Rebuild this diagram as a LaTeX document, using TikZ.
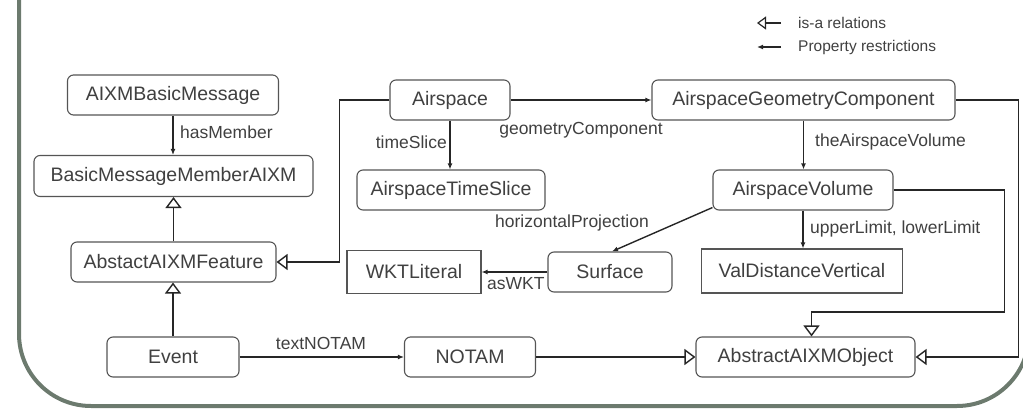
\documentclass[tikz,border=0pt]{standalone}
\usepackage{fontspec}
\setmainfont{Liberation Sans}
\usetikzlibrary{arrows.meta}

\definecolor{txt}{HTML}{404040}
\definecolor{boxgray}{HTML}{555555}
\definecolor{linec}{HTML}{262626}
\definecolor{framec}{RGB}{108,122,110}

\tikzset{
  cls/.style={draw=boxgray, line width=1.1pt, rounded corners=6pt, fill=white,
    text=txt, font=\fontsize{19.5}{22}\selectfont, inner sep=0pt,
    minimum height=40pt},
  lit/.style={cls, rounded corners=0pt, minimum height=43pt},
  prop/.style={draw=linec, line width=1.4pt, -{Latex[length=6pt,width=5pt]}},
  isa/.style={draw=linec, line width=1.4pt,
    -{Triangle[open, length=11pt, width=16pt, fill=white]}},
  lab/.style={text=txt, font=\fontsize{17.5}{20}\selectfont, inner sep=0pt},
  leg/.style={text=txt, font=\fontsize{15.5}{18}\selectfont, inner sep=0pt, anchor=west},
}

\begin{document}
\begin{tikzpicture}[x=1pt,y=-1pt]
\useasboundingbox (0,0) rectangle (1023,409);
\clip (0,0) rectangle (1023,409);

% outer frame
\draw[framec, line width=4pt, rounded corners=72pt]
  (19,-80) -- (19,406) -- (1029,406) -- (1029,-80);

% legend
\coordinate (l1s) at (781,23);  \coordinate (l1e) at (757,23);
\coordinate (l2s) at (781,47);  \coordinate (l2e) at (757,47);
\draw[draw=linec, line width=1.2pt, -{Triangle[open, length=9pt, width=13pt, fill=white]}] (l1s) -- (l1e);
\draw[draw=linec, line width=1.2pt, -{Latex[length=6pt,width=5pt]}] (l2s) -- (l2e);
\node[leg] (leg1) at (798,23) {is-a relations};
\node[leg] (leg2) at (798,47) {Property restrictions};

% classes
\node[cls, minimum width=211pt] (msg)     at (173,95)    {AIXMBasicMessage};
\node[cls, minimum width=279pt, minimum height=41pt] (member) at (173.5,176) {BasicMessageMemberAIXM};
\node[cls, minimum width=205pt] (feature) at (173.5,262) {AbstactAIXMFeature};
\node[cls, minimum width=132pt] (event)   at (173,357)   {Event};
\node[cls, minimum width=120pt] (airspace) at (450,100)  {Airspace};
\node[cls, minimum width=188pt] (slice)   at (451,190)   {AirspaceTimeSlice};
\node[cls, minimum width=303pt] (agc)     at (803.5,100) {AirspaceGeometryComponent};
\node[cls, minimum width=180pt] (volume)  at (803,190)   {AirspaceVolume};
\node[lit, minimum width=134pt] (wkt)     at (414,272)   {WKTLiteral};
\node[cls, minimum width=124pt] (surface) at (610,272)   {Surface};
\node[lit, minimum width=201pt, minimum height=44pt] (valdist) at (802,271) {ValDistanceVertical};
\node[cls, minimum width=131pt] (notam)   at (470,357)   {NOTAM};
\node[cls, minimum width=219pt] (object)  at (805.5,357) {AbstractAIXMObject};

% property restrictions
\draw[prop] (msg.south) -- (msg.south |- member.north);
\node[lab, anchor=west] (lhas) at (180,132) {hasMember};

\draw[prop] (airspace.south) -- (airspace.south |- slice.north);
\node[lab, anchor=east] (lslice) at (447,142) {timeSlice};

\draw[prop] (airspace.east) -- (agc.west);
\node[lab] (lgeo) at (581,130) {geometryComponent};

\draw[prop] (agc.south) -- (agc.south |- volume.north);
\node[lab, anchor=west] (lvol) at (815,142) {theAirspaceVolume};

\draw[prop] (volume.south) -- (volume.south |- valdist.north);
\node[lab, anchor=west] (llim) at (810,229) {upperLimit, lowerLimit};

\draw[prop] ([yshift=3pt]volume.south west) -- ([xshift=2pt]surface.north);
\node[lab] (lhor) at (572,223) {horizontalProjection};

\draw[prop] (surface.west) -- (surface.west -| wkt.east);
\node[lab, anchor=west] (lwkt) at (487,284) {asWKT};

\draw[prop] (event.east) -- (notam.west);
\node[lab] (ltxt) at (321,343) {textNOTAM};

% is-a relations
\draw[isa] (feature.north) -- (feature.north |- member.south);
\draw[isa] (event.north) -- (event.north |- feature.south);
\draw[isa] (airspace.west) -- ++(-50,0) |- (feature.east);
\draw[isa] (notam.east) -- (object.west);
\draw[isa] (agc.east) -- ++(63,0) |- (object.east);
\draw[isa] (volume.east) -- ++(111,0) -- ++(0,122) -| ([xshift=6pt]object.north);
\end{tikzpicture}
\end{document}
